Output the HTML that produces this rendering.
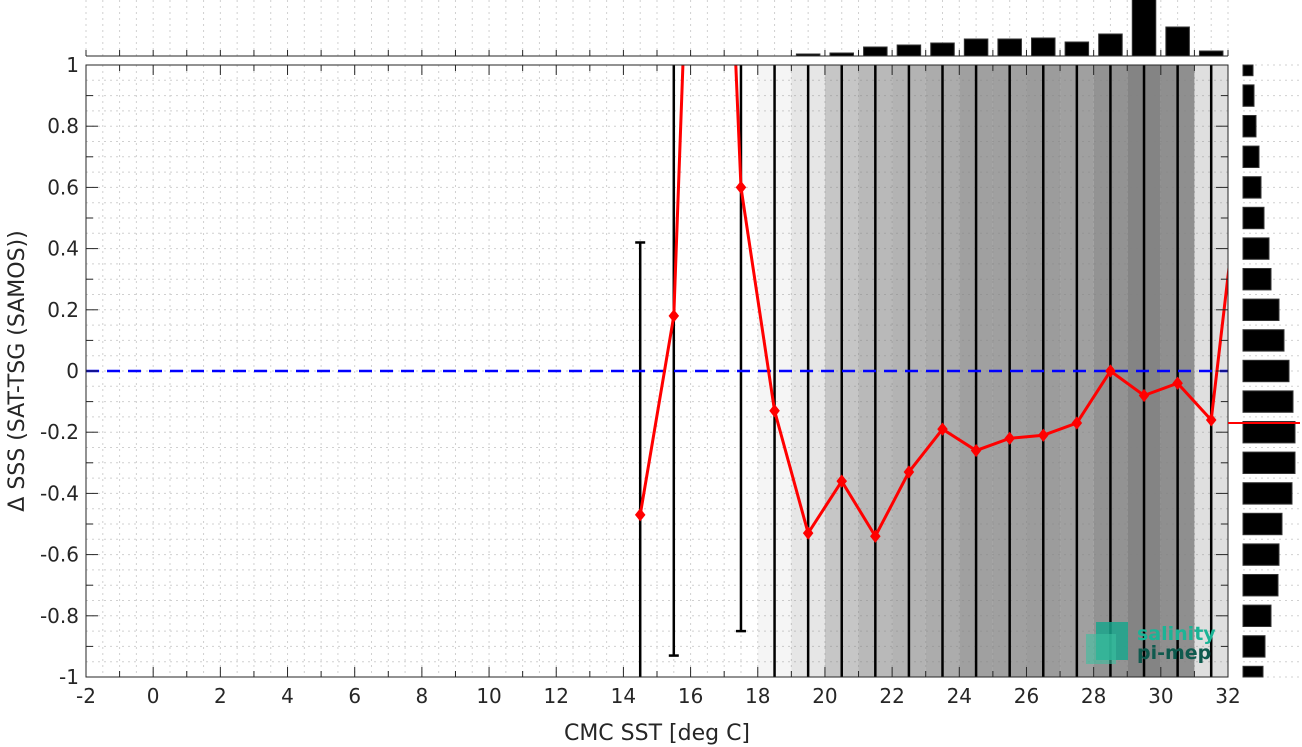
<!DOCTYPE html>
<html><head><meta charset="utf-8"><style>
html,body{margin:0;padding:0;background:#fff;overflow:hidden;width:1302px;height:747px;position:relative;}
svg{display:block;position:absolute;left:0;top:0;overflow:hidden;font-family:"DejaVu Sans","Liberation Sans",sans-serif;}
</style></head><body>
<svg id="chart" width="1302" height="747" viewBox="0 0 1302 747" xmlns="http://www.w3.org/2000/svg">
<defs><clipPath id="clipMain"><rect x="86" y="65" width="1142" height="612"/></clipPath></defs>
<g id="grid"></g>
<g id="scatter" clip-path="url(#clipMain)"></g>
<g id="errbars" clip-path="url(#clipMain)"></g>
<g id="zero"></g>
<g id="meanline" clip-path="url(#clipMain)"></g>
<g id="axes"></g>
<g id="tophist"></g>
<g id="righthist"></g>
<g>
  <rect x="1096" y="622" width="32" height="38" fill="#1aa58c" opacity="0.85"/>
  <rect x="1086" y="634" width="30" height="30" fill="#3cc0a0" opacity="0.6"/>
  <text x="1137" y="640" font-size="19" font-weight="bold" fill="#1bb496">salinity</text>
  <text x="1137" y="659" font-size="19" font-weight="bold" fill="#0e5a4e">pi-mep</text>
</g>
<text x="657" y="740" font-size="22" fill="#262626" text-anchor="middle">CMC SST [deg C]</text>
<text transform="translate(24,371) rotate(-90)" font-size="22" fill="#262626" text-anchor="middle">Δ SSS (SAT-TSG (SAMOS))</text>
</svg>
<script>
const binCenters=[14.5,15.5,16.5,17.5,18.5,19.5,20.5,21.5,22.5,23.5,24.5,25.5,26.5,27.5,28.5,29.5,30.5,31.5,32.5];
const meanValues=[-0.47,0.18,3.2,0.6,-0.13,-0.53,-0.36,-0.54,-0.33,-0.19,-0.26,-0.22,-0.21,-0.17,0.0,-0.08,-0.04,-0.16,0.78];
const stdValues=[0.89,1.11,2.0,1.45,1.6,1.6,1.7,1.7,1.7,1.6,1.6,1.6,1.6,1.6,1.5,1.5,1.5,1.6,0];
const densityCells=[18,19,20,21,22,23,24,25,26,27,28,29,30,31];
const densityValues=[0.08,0.2,0.45,0.55,0.6,0.65,0.75,0.75,0.78,0.75,0.85,0.97,0.88,0.25];
const topHistCenters=[19.5,20.5,21.5,22.5,23.5,24.5,25.5,26.5,27.5,28.5,29.5,30.5,31.5];
const topHistCounts=[2,3,9,11,13,17,17,18,14,22,60,29,5];
const rightHistCenters=[1,0.9,0.8,0.7,0.6,0.5,0.4,0.3,0.2,0.1,0,-0.1,-0.2,-0.3,-0.4,-0.5,-0.6,-0.7,-0.8,-0.9,-1];
const rightHistCounts=[10,11,13,16,18,21,26,28,36,41,46,50,52,52,49,39,36,35,28,22,20];
const xTicks=[-2,0,2,4,6,8,10,12,14,16,18,20,22,24,26,28,30,32];
const yTicks=[1,0.8,0.6,0.4,0.2,0,-0.2,-0.4,-0.6,-0.8,-1];
const overallMean=-0.17;

const NS="http://www.w3.org/2000/svg";
const X0=86,X1=1228,Y0=65,Y1=677;
const xs=v=>X0+(v+2)*(X1-X0)/34;
const ys=v=>Y1-(v+1)*(Y1-Y0)/2;
function mk(tag,attrs,parent){const e=document.createElementNS(NS,tag);for(const k in attrs)e.setAttribute(k,attrs[k]);parent.appendChild(e);return e;}
const g=id=>document.getElementById(id);

const grid=g('grid');
for(let v=-2;v<=32.001;v+=0.5){const l=mk('line',{x1:xs(v),x2:xs(v),y1:Y0,y2:Y1,stroke:'#d0d0d0','stroke-width':1,'stroke-dasharray':'2,4'},grid);
 const l2=mk('line',{x1:xs(v),x2:xs(v),y1:0,y2:56,stroke:'#d0d0d0','stroke-width':1,'stroke-dasharray':'2,4'},grid);}
for(let v=-1;v<=1.001;v+=0.05){const l=mk('line',{x1:X0,x2:X1,y1:ys(v),y2:ys(v),stroke:'#d0d0d0','stroke-width':1,'stroke-dasharray':'2,4'},grid);
 const l2=mk('line',{x1:1243,x2:1302,y1:ys(v),y2:ys(v),stroke:'#d0d0d0','stroke-width':1,'stroke-dasharray':'2,4'},grid);}

densityCells.forEach((c,i)=>{const r=mk('rect',{x:xs(c),y:Y0,width:xs(c+1)-xs(c),height:Y1-Y0,fill:'#808080',opacity:densityValues[i]},g('scatter'));
});

binCenters.forEach((c,i)=>{if(stdValues[i]<=0)return;const x=xs(c),t=ys(meanValues[i]+stdValues[i]),b=ys(meanValues[i]-stdValues[i]);
const l=mk('line',{x1:x,x2:x,y1:t,y2:b,stroke:'#000','stroke-width':2.5},g('errbars'));
[t,b].forEach(yy=>{const cp=mk('line',{x1:x-5,x2:x+5,y1:yy,y2:yy,stroke:'#000','stroke-width':2.5},g('errbars'));});});

mk('line',{x1:X0,x2:X1,y1:ys(0),y2:ys(0),stroke:'#0000ff','stroke-width':2.5,'stroke-dasharray':'13,8'},g('zero'));

const pts=binCenters.map((c,i)=>xs(c)+','+ys(meanValues[i])).join(' ');
const pl=mk('polyline',{points:pts,fill:'none',stroke:'#ff0000','stroke-width':3},g('meanline'));

binCenters.forEach((c,i)=>{const x=xs(c),y=ys(meanValues[i]);const d=mk('polygon',{points:`${x},${y-5} ${x+4},${y} ${x},${y+5} ${x-4},${y}`,fill:'#ff0000',stroke:'#ff0000','stroke-width':2},g('meanline'));
});

const ax=g('axes');
mk('rect',{x:X0,y:Y0,width:X1-X0,height:Y1-Y0,fill:'none',stroke:'#262626','stroke-width':1},ax);
for(let v=-2;v<=32;v++){const x=xs(v);const len=v%2===0?10:6;
 mk('line',{x1:x,x2:x,y1:Y1,y2:Y1-len,stroke:'#262626'},ax);mk('line',{x1:x,x2:x,y1:Y0,y2:Y0+len,stroke:'#262626'},ax);
 mk('line',{x1:x,x2:x,y1:56,y2:50,stroke:'#262626'},ax);}
for(let k=-20;k<=20;k++){const y=ys(k/20);const len=k%2===0?(k%4===0?12:7):0;if(!len)continue;
 mk('line',{x1:X0,x2:X0+len,y1:y,y2:y,stroke:'#262626'},ax);mk('line',{x1:X1,x2:X1-len,y1:y,y2:y,stroke:'#262626'},ax);}
mk('line',{x1:X0,x2:X1,y1:56,y2:56,stroke:'#262626'},ax);
xTicks.forEach(v=>{const t=mk('text',{x:xs(v),y:703,'font-size':20,fill:'#262626','text-anchor':'middle'},ax);t.textContent=v;
});
yTicks.forEach(v=>{const t=mk('text',{x:79,y:ys(v)+7,'font-size':20,fill:'#262626','text-anchor':'end'},ax);t.textContent=(Math.abs(v)<1e-9?'0':String(v));
});

topHistCenters.forEach((c,i)=>{const h=Math.min(topHistCounts[i],60);const w=0.7*(X1-X0)/34;
const r=mk('rect',{x:xs(c)-w/2,y:56-h,width:w,height:h,fill:'#000',stroke:'#333','stroke-width':1},g('tophist'));
});

const rh=g('righthist');
rightHistCenters.forEach((c,i)=>{let t=ys(c+0.035),b=ys(c-0.035);t=Math.max(t,Y0);b=Math.min(b,Y1);
const r=mk('rect',{x:1243,y:t,width:rightHistCounts[i],height:b-t,fill:'#000',stroke:'#333','stroke-width':1},rh);
});
const ml=mk('line',{x1:X1,x2:1300,y1:ys(overallMean),y2:ys(overallMean),stroke:'#ff0000','stroke-width':2},rh);

</script>
</body></html>
